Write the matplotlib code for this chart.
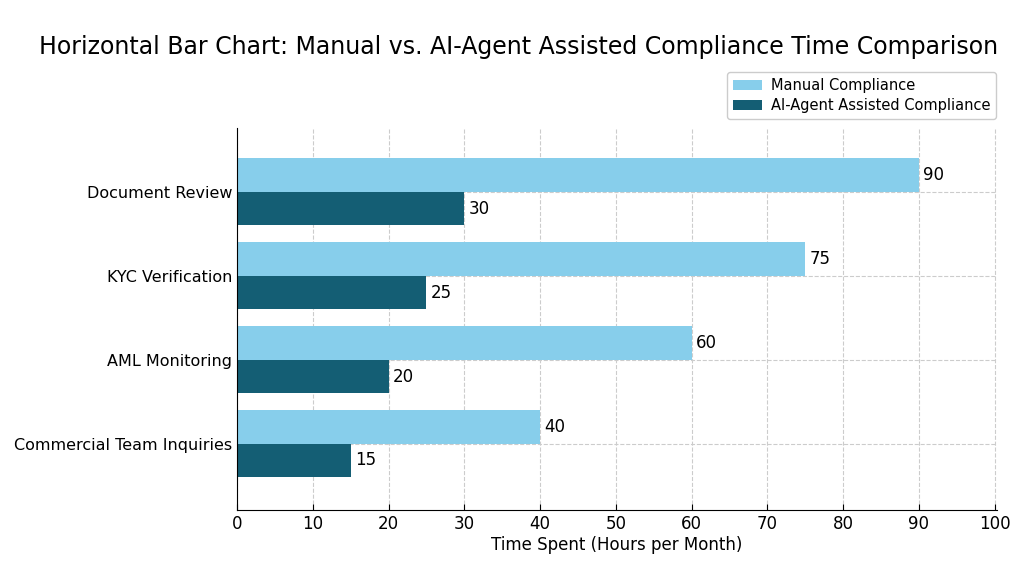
import matplotlib
matplotlib.use("Agg")
import matplotlib.pyplot as plt
import numpy as np

categories = ["Document Review", "KYC Verification", "AML Monitoring", "Commercial Team Inquiries"]
manual_hours = [90, 75, 60, 40]
ai_hours = [30, 25, 20, 15]

MANUAL_COLOR = "#87CEEB"
AI_COLOR = "#145E74"

fig = plt.figure(figsize=(10.24, 5.72), dpi=100)
ax = fig.add_axes([0.2314, 0.1084, 0.7422, 0.6678])

# first category at the top
y = np.arange(len(categories))[::-1]
h = 0.4

ax.barh(y + h / 2, manual_hours, height=h, color=MANUAL_COLOR, label="Manual Compliance", zorder=2)
ax.barh(y - h / 2, ai_hours, height=h, color=AI_COLOR, label="AI-Agent Assisted Compliance", zorder=2)

for yi, v in zip(y, manual_hours):
    ax.text(v + 0.6, yi + h / 2, str(v), va="center", ha="left", fontsize=12)
for yi, v in zip(y, ai_hours):
    ax.text(v + 0.6, yi - h / 2, str(v), va="center", ha="left", fontsize=12)

ax.set_yticks(y)
ax.set_yticklabels(categories, fontsize=11.5)
ax.set_xticks(np.arange(0, 101, 10))
ax.tick_params(axis="x", labelsize=12, direction="in", length=4)
ax.tick_params(axis="y", direction="in", length=4)
ax.set_xlim(0, 100.3)
ax.set_ylim(-0.79, 3.76)

ax.set_xlabel("Time Spent (Hours per Month)", fontsize=12, labelpad=2)
ax.grid(True, linestyle="--", color="#cccccc", linewidth=0.8, zorder=0)
ax.set_axisbelow(True)
ax.spines["top"].set_visible(False)
ax.spines["right"].set_visible(False)

fig.text(0.506, 0.918, "Horizontal Bar Chart: Manual vs. AI-Agent Assisted Compliance Time Comparison",
         ha="center", va="center", fontsize=17)

fig.legend(loc="upper right", bbox_to_anchor=(0.977, 0.881), fontsize=10.5, framealpha=1,
           handlelength=2.0, handletextpad=0.6, borderaxespad=0.3, labelspacing=0.35)

fig.savefig("out.png", dpi=100)
